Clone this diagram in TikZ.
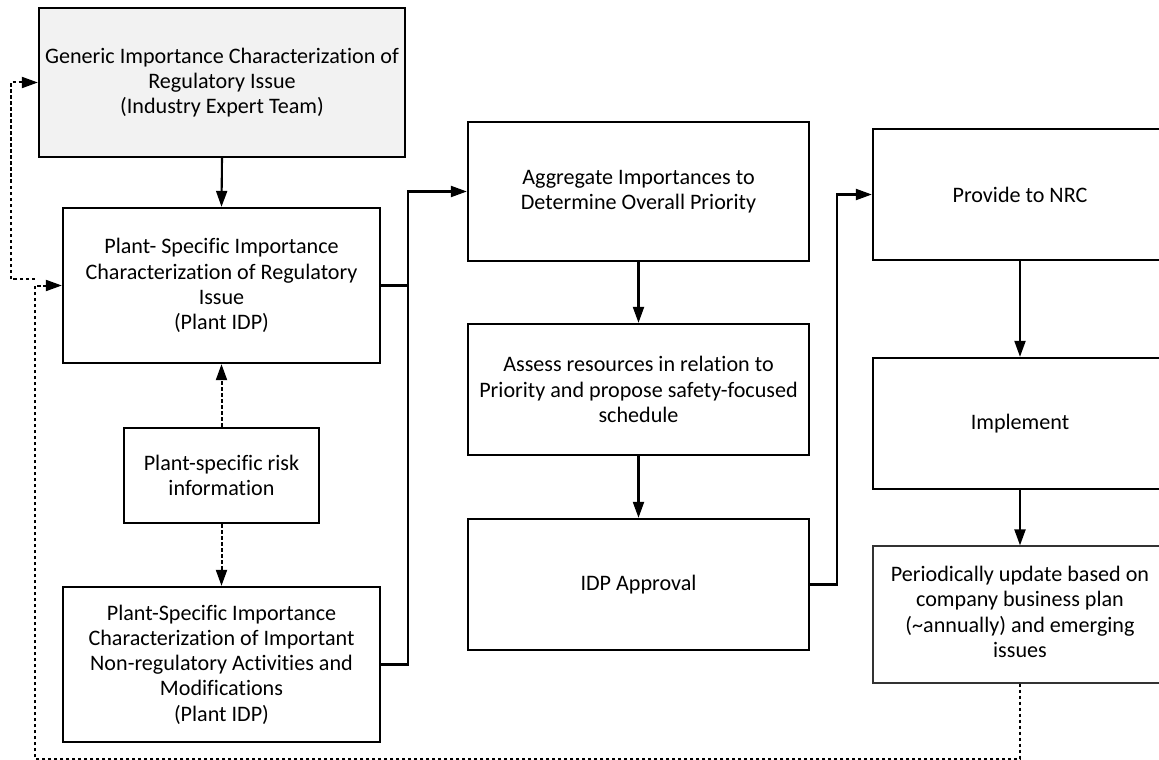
\documentclass[tikz,border=0pt]{standalone}
\usepackage{fontspec}
\setmainfont{Carlito}[Ligatures=NoCommon]
\usetikzlibrary{arrows.meta}
\definecolor{genfill}{HTML}{F2F2F2}
\begin{document}
\begin{tikzpicture}[x=1bp,y=-1bp,
  box/.style={draw=black,line width=2.3bp,fill=white,inner sep=0pt,align=center,
    font=\fontsize{22.2}{25.3}\selectfont},
  thinbox/.style={box,line width=1.2bp,draw=black!80},
  arr/.style={line width=2.1bp,-{Triangle[length=16bp,width=11bp]}},
  ln/.style={line width=2.1bp},
  darr/.style={line width=2bp,dash pattern=on 3.5bp off 2.5bp,-{Triangle[length=16bp,width=11bp]}},
  dln/.style={line width=2bp,dash pattern=on 3.5bp off 2.5bp}]
\useasboundingbox (0,0) rectangle (1159,760);
\clip (0,0) rectangle (1159,760);
\node[box,fill=genfill,minimum width=366bp,minimum height=149bp] (gen) at (222,82.5)
  {Generic Importance Characterization of\\Regulatory Issue\\(Industry Expert Team)};
\node[box,minimum width=317bp,minimum height=155bp] (psr) at (221.5,285.5)
  {Plant- Specific Importance\\Characterization of Regulatory\\Issue\\(Plant IDP)};
\node[box,minimum width=195bp,minimum height=95bp] (risk) at (221.5,475.5)
  {Plant-specific risk\\information};
\node[box,minimum width=317bp,minimum height=155bp] (nonreg) at (221.5,664.5)
  {Plant-Specific Importance\\Characterization of Important\\Non-regulatory Activities and\\Modifications\\(Plant IDP)};
\node[box,minimum width=341bp,minimum height=139bp] (agg) at (638.5,191.5)
  {Aggregate Importances to\\Determine Overall Priority};
\node[box,minimum width=341bp,minimum height=131bp] (assess) at (638.5,389.5)
  {Assess resources in relation to\\Priority and propose safety-focused\\schedule};
\node[box,minimum width=341bp,minimum height=131bp] (idp) at (638.5,584.5)
  {IDP Approval};
\node[box,minimum width=294bp,minimum height=131bp] (prov) at (1020,194.5)
  {Provide to NRC};
\node[box,minimum width=294bp,minimum height=131bp] (impl) at (1020,423.5)
  {Implement};
\node[thinbox,minimum width=294bp,minimum height=137bp] (per) at (1020,614.5)
  {\raisebox{6bp}{\begin{tabular}{@{}c@{}}Periodically update based on\\company business plan\\(\textasciitilde annually) and emerging\\issues\end{tabular}}};
% coordinates
\coordinate (jL) at (408,191.5);
\coordinate (jR) at (837,194.5);
\coordinate (bR) at (1020,759);
\coordinate (bL) at (35,759);
\coordinate (brL) at (35,279);
\coordinate (lL) at (11,279);
\coordinate (lT) at (11,82.5);
% solid connectors
\draw[arr] (gen.south) -- (psr.north);
\draw[ln] (psr.east) -- (psr.east -| jL);
\draw[arr] (nonreg.east) -| (jL) -- (agg.west);
\draw[arr] (agg.south) -- (assess.north);
\draw[arr] (assess.south) -- (idp.north);
\draw[arr] (idp.east) -| (jR) -- (prov.west);
\draw[arr] (prov.south) -- (impl.north);
\draw[arr] (impl.south) -- (per.north);
% dashed
\draw[darr] (risk.north) -- (psr.south);
\draw[darr] (risk.south) -- (nonreg.north);
\draw[darr] (per.south) -- (bR) -- (bL) |- (psr.west);
\draw[darr] (brL) -- (lL) -- (lT) -- (gen.west);
\end{tikzpicture}
\end{document}
